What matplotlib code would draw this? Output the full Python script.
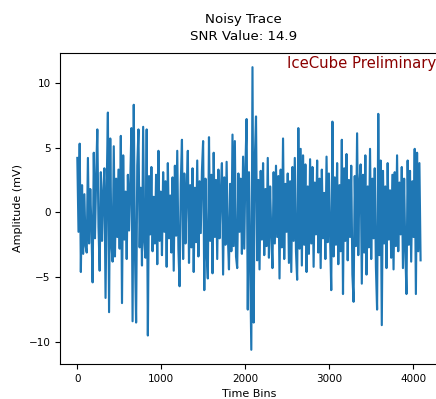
#Noisy trace plot with SNR in the title

import numpy as np
import matplotlib
matplotlib.use("Agg")
import matplotlib.pyplot as plt

# time bins sampled every 14 bins across the 4096 bin record
time_bins = np.arange(0, 4096, 14)

# amplitude in mV
amplitude = [
    4.2, -1.5, 5.3, -4.6, 2.1, -3.2, 1.4, -2.6, -3.1, 4.2,
    -2.4, 1.8, -1.2, -5.4, 4.6, -2.0, 2.7, 6.4, -1.1, -4.5,
    3.1, -2.2, 1.5, 3.4, -6.6, 2.0, 7.7, -7.7, 5.7, -2.5,
    -3.8, 5.1, -3.4, 2.6, -1.9, 3.3, -2.8, 5.9, -7.0, 4.4,
    -2.1, 1.6, -3.6, 2.9, -1.4, 2.2, 6.5, -8.4, 8.3, -3.0,
    -8.5, 3.6, 6.4, -2.7, 1.9, -4.1, 6.6, -2.3, -3.5, 6.4,
    -9.5, 2.8, -1.7, 3.5, -3.0, 1.2, -2.4, 2.9, -4.0, 4.75,
    -2.2, 1.6, -3.3, 3.1, -1.5, 2.4, -4.2, 3.8, -2.0, 1.3,
    -3.1, 2.7, -4.5, 3.6, -1.8, 4.75, -2.9, -5.7, 2.2, 5.6,
    -3.6, 3.0, -2.4, 1.7, 4.75, -3.9, 2.1, -2.7, 3.4, -4.6,
    1.9, -2.3, 4.0, -3.4, 2.4, -1.6, 3.2, 5.5, -6.0, 2.6,
    -3.1, -5.1, 5.8, -2.2, 2.9, -4.7, 4.6, -1.9, 2.5, -3.6,
    3.3, -2.0, 1.4, 3.8, -4.8, 2.7, -2.5, 3.9, -1.7, -4.4,
    2.2, -3.0, 6.0, -2.6, 5.5, -3.4, -4.3, 3.0, -1.5, 2.6,
    -3.2, 4.3, -2.8, 3.5, 7.2, -7.5, 3.1, -4.0, -10.6, 11.2,
    -8.5, 4.1, 7.4, -3.7, 2.5, -4.4, 3.2, -2.1, 3.8, -3.3,
    1.8, -2.6, 4.2, -3.5, 2.0, -1.6, -4.3, 3.1, -2.4, 3.6,
    -1.9, 2.8, -5.1, 3.3, -2.7, 5.7, -3.6, 2.2, -1.5, 3.0,
    -3.9, 2.4, -4.6, 3.5, -2.2, 4.2, -3.0, -5.2, 6.5, -2.8,
    4.9, -4.1, 4.4, -2.5, 3.7, -4.6, 2.0, -3.2, 4.1, -2.4,
    3.5, -4.2, 2.3, -1.7, 4.0, -3.1, 2.6, -4.3, 3.3, -2.0,
    1.5, -3.6, 4.3, -2.3, 3.0, -1.8, -6.0, 7.0, -3.4, 2.7,
    -2.5, 3.8, -4.0, 2.1, -3.0, 5.6, -6.3, 3.4, -2.2, 4.5,
    -3.7, 2.5, -1.9, 3.6, -4.8, -6.9, 2.8, -2.6, 6.1, -3.3,
    2.3, 3.7, -5.5, 2.9, -3.1, 4.4, -4.8, 2.0, -2.7, 4.9,
    -3.6, 2.6, -2.0, 3.4, -4.2, -7.5, 7.6, -3.3, 4.0, -8.7,
    3.2, -2.4, 2.0, -4.3, 3.8, -2.1, 1.7, -3.5, 2.9, -4.4,
    3.1, -2.6, 4.4, -3.0, 2.3, -1.7, 3.5, -4.3, 2.6, -2.9,
    -6.3, 4.0, -2.5, 3.2, -3.8, 2.4, -1.9, 4.9, -6.3, 4.6,
    -3.0, 3.8, -3.7,
]

snr_value = 14.9

plt.rcParams["font.size"] = 7.5

fig = plt.figure(figsize=(4.36, 3.99), dpi=100)
ax = fig.add_axes([0.138, 0.088, 1.004 - 0.138, 0.867 - 0.088])

ax.plot(time_bins, amplitude, color="#1f77b4", lw=1.55)
ax.set_title("Noisy Trace\nSNR Value: {}".format(snr_value), fontsize=9.6,
             x=0.485, pad=9.5, linespacing=1.42)
ax.set_xlabel("Time Bins", fontsize=8)
ax.set_ylabel("Amplitude (mV)", fontsize=8)
ax.set_xticks([0, 1000, 2000, 3000, 4000])
ax.set_yticks([-10, -5, 0, 5, 10])
ax.text(0.997, 0.99, "IceCube Preliminary", color="darkred", fontsize=10.7,
        ha="right", va="top", transform=ax.transAxes)

fig.savefig("out.png", dpi=100)
